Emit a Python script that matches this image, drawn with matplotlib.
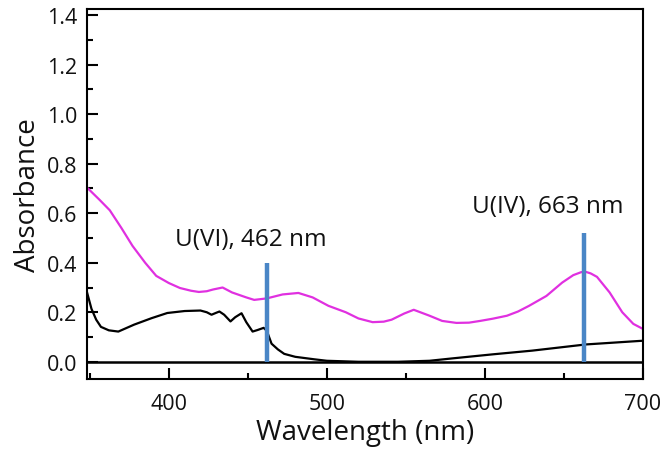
import matplotlib
matplotlib.use("Agg")
import matplotlib.pyplot as plt
from matplotlib.ticker import MultipleLocator

plt.rcParams['font.family'] = ['Open Sans', 'DejaVu Sans']

# U(IV) spectrum (magenta)
wl_u4 = [348, 352, 356, 362.6, 370, 377, 385, 392, 400, 407, 414, 419, 424, 428, 434,
         440, 449, 454, 462, 472, 482, 491, 501, 512, 520, 529, 536, 541, 549, 555,
         560, 565, 573, 582, 590, 597, 605, 614, 621, 628, 639, 649, 656, 661, 664,
         667, 671, 679, 687, 694, 700]
abs_u4 = [0.705, 0.68, 0.655, 0.612, 0.54, 0.468, 0.40, 0.347, 0.318, 0.298, 0.287,
          0.282, 0.285, 0.292, 0.30, 0.28, 0.26, 0.25, 0.256, 0.272, 0.278, 0.26,
          0.226, 0.20, 0.175, 0.16, 0.162, 0.17, 0.195, 0.21, 0.198, 0.186, 0.165,
          0.157, 0.158, 0.165, 0.174, 0.186, 0.203, 0.226, 0.266, 0.32, 0.35, 0.362,
          0.363, 0.357, 0.343, 0.28, 0.20, 0.153, 0.133]

# U(VI) spectrum (black)
wl_u6 = [348, 351, 354, 357, 362, 368, 378, 389, 399, 410, 420, 424, 427, 430, 432,
         435, 439, 442, 446, 449, 453, 456, 460, 462, 465, 469, 473, 480, 492, 500,
         520, 545, 565, 580, 605, 630, 664, 700]
abs_u6 = [0.285, 0.214, 0.17, 0.141, 0.127, 0.122, 0.15, 0.176, 0.197, 0.205, 0.207,
          0.2, 0.19, 0.198, 0.203, 0.19, 0.163, 0.18, 0.196, 0.16, 0.122, 0.128,
          0.137, 0.125, 0.073, 0.05, 0.032, 0.02, 0.01, 0.004, 0.0, 0.0, 0.004,
          0.014, 0.03, 0.045, 0.07, 0.085]

# marker lines
mark_wl = [462, 663]
mark_top = [0.40, 0.52]
mark_labels = ["U(VI), 462 nm", "U(IV), 663 nm"]
label_x = [404, 592]
label_y = [0.495, 0.63]

fig = plt.figure(figsize=(6.62, 4.56), dpi=100)
ax = fig.add_axes([0.131, 0.167, 0.840, 0.811])

ax.axhline(0, color='black', lw=1.8, zorder=1)
ax.plot(wl_u6, abs_u6, color='black', lw=1.6, zorder=2)
ax.plot(wl_u4, abs_u4, color='#e030e0', lw=1.6, zorder=2)
for w, t in zip(mark_wl, mark_top):
    ax.vlines(w, 0, t, color='#4a86c6', lw=3.2, zorder=3)
for s, x, y in zip(mark_labels, label_x, label_y):
    ax.text(x, y, s, fontsize=17.5, va='center', ha='left', color='#111111')

ax.set_xlim(348, 700)
ax.set_ylim(-0.069, 1.425)
ax.xaxis.set_major_locator(MultipleLocator(100))
ax.xaxis.set_minor_locator(MultipleLocator(50))
ax.yaxis.set_major_locator(MultipleLocator(0.2))
ax.yaxis.set_minor_locator(MultipleLocator(0.1))
ax.yaxis.set_major_formatter(matplotlib.ticker.FormatStrFormatter('%.1f'))
ax.tick_params(which='major', direction='in', length=8, width=1.5, labelsize=15.5,
               labelcolor='#111111', pad=7)
ax.tick_params(which='minor', direction='in', length=4, width=1.5)
ax.tick_params(axis='x', pad=10)
for sp in ax.spines.values():
    sp.set_linewidth(1.5)

ax.set_xlabel('Wavelength (nm)', fontsize=20, labelpad=3, color='#111111')
ax.set_ylabel('Absorbance', fontsize=20, labelpad=3, color='#111111')

fig.savefig('out.png', dpi=100)
